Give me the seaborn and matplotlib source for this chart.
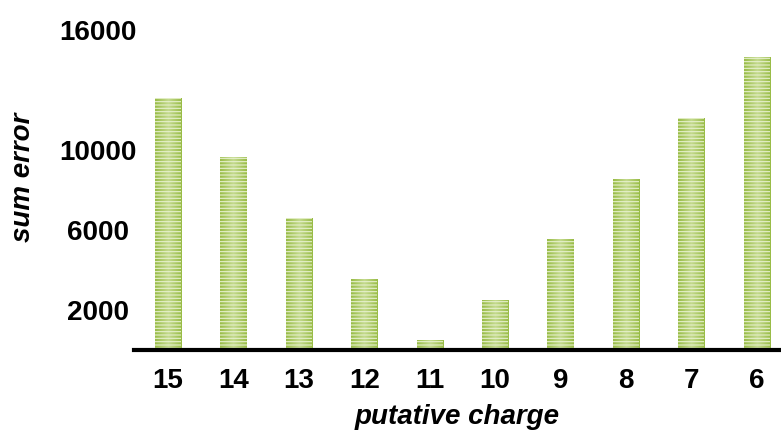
import matplotlib
matplotlib.use("Agg")
import matplotlib.pyplot as plt
import numpy as np
import pandas as pd
import seaborn as sns

# values
charges = ["15", "14", "13", "12", "11", "10", "9", "8", "7", "6"]
sum_error = [12600, 9650, 6600, 3550, 500, 2500, 5550, 8550, 11600, 14650]
yticks = [2000, 6000, 10000, 16000]

df = pd.DataFrame({"charge": charges, "err": sum_error})

sns.set_style("white")
plt.rcParams["font.family"] = ["Liberation Sans", "DejaVu Sans"]
plt.rcParams["text.color"] = "black"
plt.rcParams["axes.labelcolor"] = "black"
plt.rcParams["xtick.color"] = "black"
plt.rcParams["ytick.color"] = "black"
plt.rcParams["hatch.linewidth"] = 0.8

fig = plt.figure(figsize=(7.81, 4.32), dpi=100)
ax = fig.add_axes([134 / 781, 82 / 432, 1 - 134 / 781, 320 / 432])

sns.barplot(data=df, x="charge", y="err", order=charges, color="#9cbf4c",
            width=0.4, saturation=1, ax=ax)

# green with a lighter middle, striped across
grad = np.abs(np.linspace(-1, 1, 64))[None, :]
cmap = matplotlib.colors.LinearSegmentedColormap.from_list("g", ["#c4da8e", "#98bc46"])
for p in ax.patches:
    x0, y0 = p.get_x(), p.get_y()
    w, h = p.get_width(), p.get_height()
    ax.imshow(grad, extent=(x0, x0 + w, y0, y0 + h), aspect="auto", cmap=cmap,
              vmin=0, vmax=1, zorder=1, interpolation="bilinear")
    p.set_facecolor("none")
    p.set_hatch("-----")
    p.set_edgecolor("#e6f0cc")
    p.set_linewidth(0)
    p.set_zorder(2)

ax.set_xlim(-0.52, 9.37)
ax.set_ylim(0, 16000)
ax.set_yticks(yticks)
ax.set_yticklabels([str(v) for v in yticks], fontsize=20, fontweight="bold", ha="center")
ax.tick_params(axis="y", length=0, pad=26)
ax.tick_params(axis="x", length=0, pad=13, labelsize=20)
for t in ax.get_xticklabels():
    t.set_fontweight("bold")

sns.despine(ax=ax, left=True, top=True, right=True)
ax.spines["bottom"].set_linewidth(3)
ax.spines["bottom"].set_color("black")
ax.spines["bottom"].set_zorder(5)

ax.set_xlabel("putative charge", fontsize=20, fontweight="bold", fontstyle="italic", labelpad=7)
ax.set_ylabel("")
fig.text(23 / 781, 1 - 177 / 432, "sum error", rotation=90, fontsize=20,
         fontweight="bold", fontstyle="italic", ha="center", va="center")

fig.savefig("out.png", dpi=100)
